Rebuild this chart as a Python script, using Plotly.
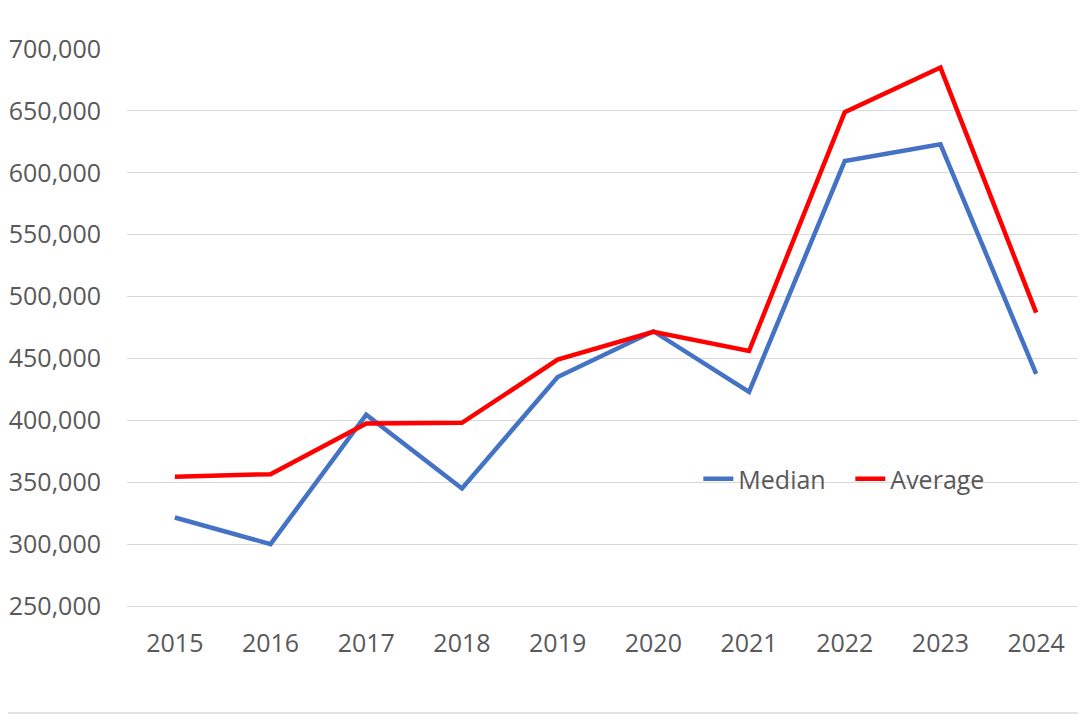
import plotly.graph_objects as go

years = ["2015", "2016", "2017", "2018", "2019", "2020", "2021", "2022", "2023", "2024"]
median = [321500, 300000, 404500, 345000, 435000, 472000, 423000, 609500, 623000, 437500]
average = [354500, 356500, 397500, 398000, 449000, 471500, 456000, 649000, 685000, 487000]

# page body has an 8px margin, so the figure is sized to fit the window
W, H = 1078, 707
ML, MR, MT, MB = 119, 2, 41, 109

fig = go.Figure()
fig.add_trace(go.Scatter(x=years, y=median, name="Median", mode="lines",
                         line=dict(color="#4472C4", width=4.5)))
fig.add_trace(go.Scatter(x=years, y=average, name="Average", mode="lines",
                         line=dict(color="#FF0000", width=4.5)))

font = dict(family="Open Sans, Noto Sans, sans-serif", size=25, color="#595959")

fig.update_layout(
    width=W, height=H,
    margin=dict(l=ML, r=MR, t=MT, b=MB),
    paper_bgcolor="white", plot_bgcolor="white",
    font=font,
    showlegend=True,
    legend=dict(orientation="h", x=0.597, xanchor="left", y=0.228, yanchor="middle",
                bgcolor="rgba(0,0,0,0)", font=font, itemwidth=30, tracegroupgap=0,
                entrywidth=107, entrywidthmode="pixels"),
    xaxis=dict(type="category", range=[-0.5, 9.5], showgrid=False, zeroline=False,
               showline=True, linecolor="#D9D9D9", linewidth=1,
               ticks="outside", ticklen=15, tickcolor="rgba(0,0,0,0)",
               tickfont=font),
    yaxis=dict(range=[250000, 700000], tickvals=list(range(250000, 700001, 50000)),
               tickformat=",", showgrid=True, gridcolor="#D9D9D9", gridwidth=1.3,
               zeroline=False, showline=False, ticks="outside", ticklen=20,
               tickcolor="rgba(0,0,0,0)", tickfont=font),
)

# outer chart border (only right and bottom edges fall inside the figure)
pw = W - ML - MR
ph = H - MT - MB
fig.add_shape(type="rect", xref="paper", yref="paper",
              x0=(-20 - ML) / pw, x1=(W - 2.5 - ML) / pw,
              y0=-(H - 2 - MT - ph) / ph, y1=(ph + MT + 20) / ph,
              line=dict(color="#D9D9D9", width=1.5), fillcolor="rgba(0,0,0,0)", layer="below")

fig.write_html("out.html")
